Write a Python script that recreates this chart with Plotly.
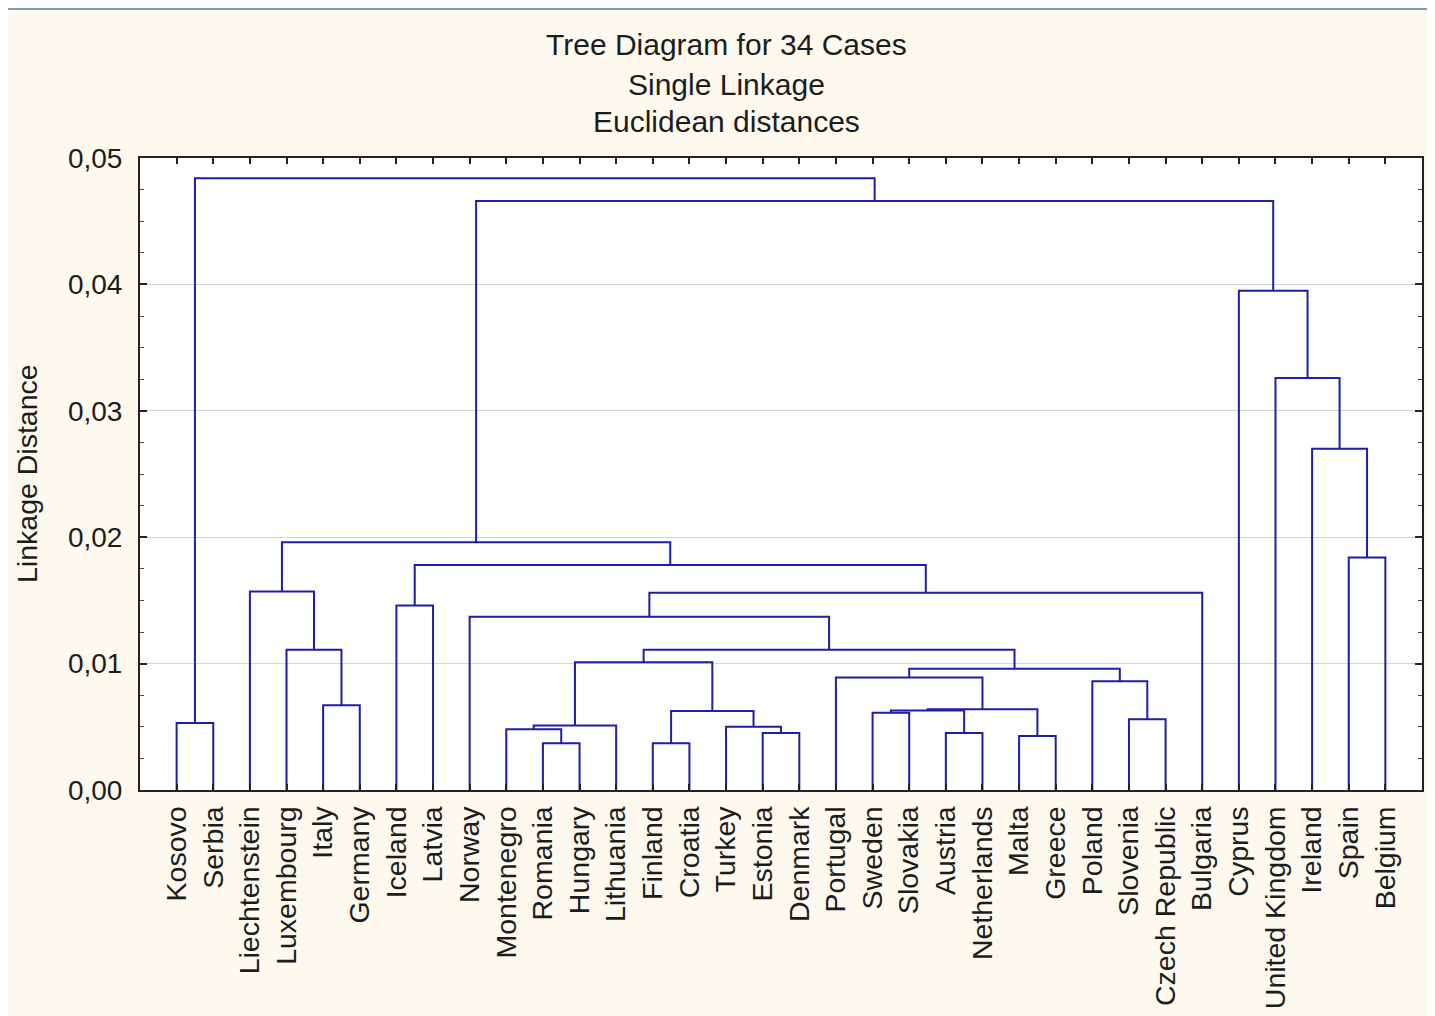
import plotly.graph_objects as go

# ---------------- data ----------------
leaves = ["Kosovo", "Serbia", "Liechtenstein", "Luxembourg", "Italy", "Germany",
          "Iceland", "Latvia", "Norway", "Montenegro", "Romania", "Hungary",
          "Lithuania", "Finland", "Croatia", "Turkey", "Estonia", "Denmark",
          "Portugal", "Sweden", "Slovakia", "Austria", "Netherlands", "Malta",
          "Greece", "Poland", "Slovenia", "Czech Republic", "Bulgaria", "Cyprus",
          "United Kingdom", "Ireland", "Spain", "Belgium"]

# merges: node id of merge k is len(leaves)+k ; leaves are 0..33
merge_left = [10, 13, 23, 21, 16, 9, 15, 39, 0, 26, 19, 44, 35, 45, 4, 25, 18,
              50, 41, 52, 3, 8, 6, 55, 2, 56, 32, 58, 31, 30, 29, 61, 42]
merge_right = [11, 14, 24, 22, 17, 34, 38, 12, 1, 27, 20, 37, 40, 36, 5, 43, 47,
               49, 46, 51, 48, 53, 7, 28, 54, 57, 33, 59, 60, 62, 63, 64, 65]
merge_height = [0.0037, 0.0037, 0.00427, 0.0045, 0.0045, 0.0048, 0.0050, 0.0051,
                0.0053, 0.0056, 0.00612, 0.00629, 0.00625, 0.00638, 0.0067,
                0.0086, 0.0089, 0.0096, 0.0101, 0.0111, 0.0111, 0.0137, 0.0146,
                0.0156, 0.0157, 0.0178, 0.0184, 0.0196, 0.0270, 0.0326, 0.0395,
                0.0466, 0.0484]

y_ticks = [0.0, 0.01, 0.02, 0.03, 0.04, 0.05]

# ---------------- build dendrogram segments ----------------
n = len(leaves)
node_x = {i: i + 1 for i in range(n)}
node_h = {i: 0.0 for i in range(n)}
xs, ys = [], []
for k, (a, b, h) in enumerate(zip(merge_left, merge_right, merge_height)):
    xa, xb = node_x[a], node_x[b]
    xs += [xa, xa, xb, xb, None]
    ys += [node_h[a], h, h, node_h[b], None]
    node_x[n + k] = (xa + xb) / 2
    node_h[n + k] = h

FONT = "Liberation Sans, Arial, sans-serif"
TXT = "#1c1c1c"

fig = go.Figure()
fig.add_trace(go.Scatter(x=xs, y=ys, mode="lines",
                         line=dict(color="#1e1ea8", width=2),
                         hoverinfo="skip", showlegend=False))

# page has an 8px body margin: figure origin is at page (8, 8)
OFF = 8
W, H = 1435 - OFF, 1016 - OFF
L, T = 140 - OFF, 158 - OFF
R = W - (1422 - OFF)
B = H - (790 - OFF)
PW, PH = W - L - R, H - T - B


def px_x(page_px):
    return (page_px - OFF - L) / PW


def px_y(page_py):
    return 1 + (T - (page_py - OFF)) / PH


titles = [("Tree Diagram for 34 Cases", 45), ("Single Linkage", 84),
          ("Euclidean distances", 122)]
annotations = []
for txt, yc in titles:
    annotations.append(dict(text=txt, x=px_x(726), y=px_y(yc), xref="paper",
                            yref="paper", showarrow=False, xanchor="center",
                            yanchor="middle",
                            font=dict(family=FONT, size=30, color=TXT)))
annotations.append(dict(text="Linkage Distance", x=px_x(27), y=px_y(474),
                        xref="paper", yref="paper", showarrow=False,
                        textangle=-90, xanchor="center", yanchor="middle",
                        font=dict(family=FONT, size=28.5, color=TXT)))

shapes = [
    # thin frame line at the top of the window
    dict(type="rect", xref="paper", yref="paper", x0=px_x(OFF), x1=px_x(1435),
         y0=px_y(10), y1=px_y(OFF), fillcolor="#8a98ad", line=dict(width=0),
         layer="below"),
]

fig.update_layout(
    width=W, height=H, autosize=False,
    margin=dict(l=L, r=R, t=T, b=B, pad=0, autoexpand=False),
    paper_bgcolor="#fdf9ef",
    plot_bgcolor="#ffffff",
    separators=", ",
    font=dict(family=FONT, color=TXT),
    annotations=annotations,
    shapes=shapes,
    xaxis=dict(
        range=[0, n + 1], tickmode="array",
        tickvals=list(range(1, n + 1)), ticktext=leaves,
        tickangle=-90, tickfont=dict(family=FONT, size=28.5, color=TXT),
        ticks="inside", ticklen=6, tickwidth=1.5, tickcolor="#222",
        showline=True, linecolor="#222", linewidth=2, mirror="ticks",
        showgrid=False, zeroline=False, ticklabelstandoff=3,
        automargin=False, fixedrange=True,
    ),
    yaxis=dict(
        range=[0, 0.05], tickmode="array", tickvals=y_ticks,
        tickformat=".2f", tickfont=dict(family=FONT, size=28, color=TXT),
        ticks="inside", ticklen=7, tickwidth=1.5, tickcolor="#222",
        showline=True, linecolor="#222", linewidth=2, mirror="ticks",
        showgrid=True, gridcolor="#d4d4d4", gridwidth=1, zeroline=False,
        ticklabelstandoff=10,
        minor=dict(dtick=0.0025, tick0=0, ticks="inside", ticklen=4,
                   tickcolor="#444", tickwidth=1, showgrid=False),
        automargin=False, fixedrange=True,
    ),
)

fig.write_html("out.html")
